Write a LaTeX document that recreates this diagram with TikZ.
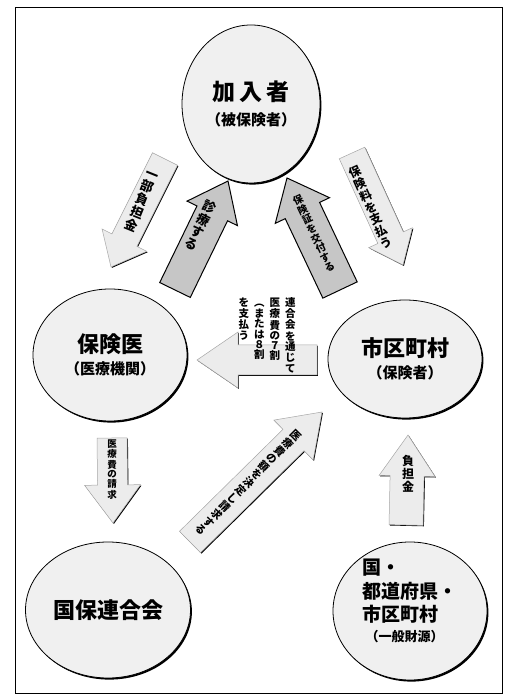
\documentclass[tikz,border=0pt]{standalone}
\usepackage{fontspec}
\setmainfont{Noto Sans CJK JP}
\usepackage{tikz}
\usetikzlibrary{shapes.geometric,shadows,calc}

\newcommand{\jsize}[1]{\fontsize{#1}{#1}\selectfont}
% vertical (tategaki) column, one character per line
\makeatletter
\newcommand{\tate}[1]{\vtop{\offinterlineskip\tate@next#1\relax}}
\def\tate@next#1{\ifx\relax#1\else\hbox to 1em{\hss#1\hss}\kern.14em\expandafter\tate@next\fi}
\makeatother

\tikzset{
	party/.style={ellipse, draw=black, line width=0.8pt, fill=gray!12,
		drop shadow={shadow xshift=1.4pt, shadow yshift=-1.6pt, fill=black, opacity=1},
		align=center, font=\bfseries},
	flow/.style n args={3}{to path={
		($(\tikztostart)!#1!-90:(\tikztotarget)$) --
		($(\tikztotarget)!#3!(\tikztostart)!#1!-90:(\tikztotarget)$) --
		($(\tikztotarget)!#3!(\tikztostart)!#2!-90:(\tikztotarget)$) --
		(\tikztotarget) --
		($(\tikztotarget)!#3!(\tikztostart)!#2!90:(\tikztotarget)$) --
		($(\tikztotarget)!#3!(\tikztostart)!#1!90:(\tikztotarget)$) --
		($(\tikztostart)!#1!90:(\tikztotarget)$) -- cycle}},
	light/.style={fill=gray!15, draw=gray!70, line width=0.5pt,
		drop shadow={shadow xshift=.9pt, shadow yshift=-.9pt, fill=black, opacity=1}},
	heavy/.style={fill=gray!45, draw=black, line width=1pt},
	tag/.style={inner sep=0pt, font=\bfseries},
}

\begin{document}
\begin{tikzpicture}[x=1pt,y=1pt]
	\useasboundingbox (0,0) rectangle (504,695);
	\draw[line width=0.8pt] (15,2) rectangle (502,688);
	
	% the five parties
	\node[party, minimum width=138pt, minimum height=158pt] (kanyu) at (251,591)
		{{\jsize{23}加\,入\,者}\\[8pt]{\jsize{15}（被保険者）}};
	\node[party, minimum width=154pt, minimum height=132pt] (hokeni) at (110,340)
		{{\jsize{22}保険医}\\[6pt]{\jsize{15}（医療機関）}};
	\node[party, minimum width=154pt, minimum height=118pt] (shiku) at (405,336)
		{{\jsize{22}市区町村}\\[6pt]{\jsize{15}（保険者）}};
	\node[party, minimum width=146pt, minimum height=136pt] (rengo) at (108,85)
		{\jsize{22}国保連合会};
	\node[party, minimum width=154pt, minimum height=138pt] (kuni) at (410,84) {};
	\node[tag, align=left] (kuniT) at (410,94)
		{{\jsize{19}国・}\\[5pt]{\jsize{19}都道府県・}\\[4pt]{\jsize{19}市区町村}\\[6pt]
		 {\jsize{13}\hspace{3pt}（一般財源）}};
	
	% arrows
	\coordinate (copayA) at (165,536);
	\coordinate (copayB) at (111,428);
	\draw[light] (copayA) to[flow={14pt}{25pt}{30pt}] (copayB);
	\node[tag, rotate=-22, font={\bfseries\jsize{13}}] (copayT) at (141,492) {\tate{一部負担金}};
	
	\coordinate (treatA) at (175,405);
	\coordinate (treatB) at (228,514);
	\draw[heavy] (treatA) to[flow={17pt}{28pt}{36pt}] (treatB);
	\node[tag, rotate=-26, font={\bfseries\jsize{13}}] (treatT) at (200,469) {\tate{診療する}};
	
	\coordinate (cardA) at (340,405);
	\coordinate (cardB) at (287,517);
	\draw[heavy] (cardA) to[flow={19pt}{30pt}{36pt}] (cardB);
	\node[tag, rotate=25, font={\bfseries\jsize{10}}] (cardT) at (314,461) {\tate{保険証を交付する}};
	
	\coordinate (premA) at (352,542);
	\coordinate (premB) at (403,430);
	\draw[light] (premA) to[flow={14pt}{24pt}{30pt}] (premB);
	\node[tag, rotate=24, font={\bfseries\jsize{12}}] (premT) at (371,487) {\tate{保険料を支払う}};
	
	\coordinate (payA) at (317,335);
	\coordinate (payB) at (197,335);
	\draw[light] (payA) to[flow={15pt}{28pt}{41pt}] (payB);
	\node[tag, anchor=north, font={\bfseries\jsize{10.5}}] (payT) at (267,398)
		{\tate{を支払う}\hspace{5pt}\tate{︵または８割}\hspace{5pt}\tate{医療費の７割}\hspace{5pt}\tate{連合会を通じて}};
	
	\coordinate (claimA) at (112,257);
	\coordinate (claimB) at (113,172);
	\draw[light] (claimA) to[flow={15pt}{28pt}{38pt}] (claimB);
	\node[tag, font={\bfseries\jsize{9.5}}] (claimT) at (112,225) {\tate{医療費の請求}};
	
	\coordinate (billA) at (190,153);
	\coordinate (billB) at (322,283);
	\draw[light] (billA) to[flow={15pt}{28pt}{40pt}] (billB);
	\node[tag, rotate=-45, font={\bfseries\jsize{10.5}}] (billT) at (248,212) {\tate{医療費の額を決定し請求する}};
	
	\coordinate (shareA) at (406,170);
	\coordinate (shareB) at (408,260);
	\draw[light] (shareA) to[flow={17pt}{28pt}{41pt}] (shareB);
	\node[tag, font={\bfseries\jsize{12}}] (shareT) at (408,220) {\tate{負担金}};
\end{tikzpicture}
\end{document}
